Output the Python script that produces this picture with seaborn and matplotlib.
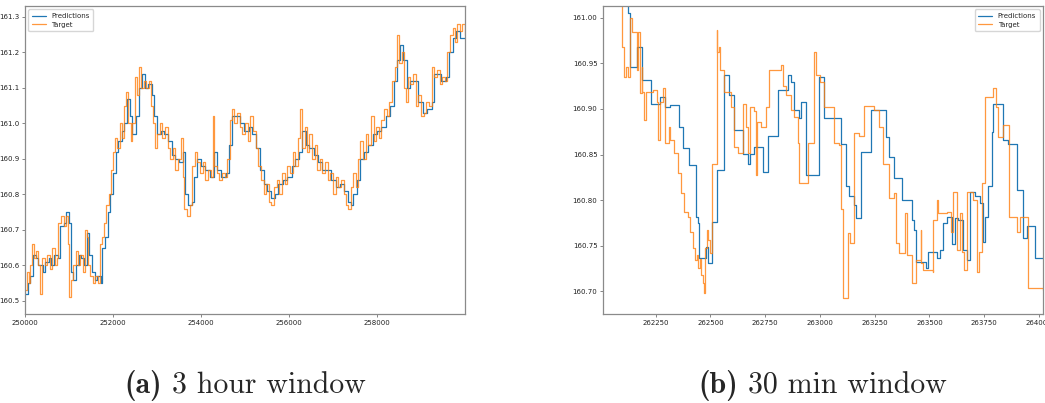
import matplotlib
matplotlib.use("Agg")
import matplotlib.pyplot as plt
import seaborn as sns
import pandas as pd

# ---------------- 3 hour window ----------------
long_target_x = [
    250000, 250040, 250080, 250120, 250160, 250200, 250260, 250300, 250350, 250380,
    250450, 250500, 250560, 250620, 250680, 250720, 250760, 250820, 250880, 250930,
    250980, 251010, 251040, 251100, 251150, 251200, 251260, 251320, 251360, 251400,
    251440, 251480, 251540, 251600, 251660, 251700, 251760, 251800, 251850, 251900,
    251950, 252000, 252050, 252100, 252150, 252200, 252250, 252300, 252340, 252400,
    252440, 252500, 252540, 252600, 252640, 252700, 252760, 252820, 252870, 252920,
    252960, 253000, 253060, 253120, 253180, 253240, 253300, 253360, 253420, 253480,
    253540, 253580, 253620, 253680, 253740, 253800, 253860, 253920, 253980, 254040,
    254100, 254160, 254220, 254270, 254300, 254360, 254420, 254480, 254540, 254600,
    254650, 254700, 254760, 254820, 254880, 254940, 255000, 255060, 255120, 255180,
    255240, 255300, 255360, 255420, 255480, 255540, 255600, 255660, 255720, 255780,
    255840, 255900, 255960, 256020, 256080, 256140, 256200, 256250, 256300, 256360,
    256400, 256460, 256520, 256580, 256640, 256700, 256760, 256820, 256880, 256940,
    257000, 257060, 257120, 257180, 257240, 257300, 257340, 257400, 257460, 257520,
    257560, 257620, 257680, 257740, 257800, 257860, 257920, 257980, 258040, 258100,
    258160, 258220, 258280, 258340, 258400, 258450, 258500, 258560, 258610, 258660,
    258700, 258760, 258820, 258880, 258940, 259000, 259060, 259120, 259180, 259250,
    259300, 259360, 259420, 259480, 259540, 259600, 259660, 259720, 259780, 259820,
    259880, 259940, 259999,
]
long_target_y = [
    160.53, 160.58, 160.55, 160.60, 160.66, 160.62, 160.64, 160.60, 160.52, 160.62,
    160.60, 160.63, 160.59, 160.65, 160.60, 160.62, 160.72, 160.74, 160.71, 160.74,
    160.66, 160.51, 160.56, 160.60, 160.64, 160.60, 160.63, 160.58, 160.70, 160.68,
    160.60, 160.57, 160.55, 160.57, 160.55, 160.66, 160.68, 160.72, 160.77, 160.80,
    160.87, 160.92, 160.96, 160.93, 161.00, 160.96, 161.05, 161.09, 161.00, 160.95,
    161.00, 161.13, 161.08, 161.16, 161.10, 161.12, 161.10, 161.12, 161.05, 161.00,
    160.93, 160.97, 161.00, 160.96, 160.99, 160.93, 160.90, 160.93, 160.87, 160.90,
    160.96, 160.85, 160.76, 160.74, 160.77, 160.88, 160.92, 160.89, 160.86, 160.89,
    160.84, 160.87, 160.85, 161.02, 160.88, 160.86, 160.84, 160.86, 160.85, 160.90,
    161.01, 161.04, 161.00, 161.03, 160.99, 160.97, 161.00, 160.95, 161.02, 160.98,
    160.93, 160.88, 160.84, 160.80, 160.83, 160.78, 160.77, 160.82, 160.84, 160.80,
    160.86, 160.83, 160.88, 160.86, 160.92, 160.88, 160.96, 161.04, 160.93, 160.99,
    160.92, 160.97, 160.90, 160.94, 160.87, 160.90, 160.86, 160.89, 160.84, 160.86,
    160.80, 160.85, 160.82, 160.84, 160.80, 160.77, 160.76, 160.82, 160.86, 160.82,
    160.90, 160.95, 160.90, 160.97, 160.94, 161.02, 160.95, 160.99, 160.96, 161.01,
    161.04, 161.02, 161.06, 161.12, 161.16, 161.25, 161.17, 161.20, 161.10, 161.06,
    161.13, 161.11, 161.14, 161.05, 161.08, 161.02, 161.03, 161.06, 161.05, 161.16,
    161.13, 161.15, 161.11, 161.13, 161.12, 161.20, 161.25, 161.27, 161.23, 161.28,
    161.26, 161.28, 161.25,
]
long_pred_x = [
    250000, 250060, 250120, 250180, 250240, 250300, 250400, 250460, 250540, 250600,
    250660, 250740, 250800, 250880, 250940, 251000, 251040, 251100, 251160, 251220,
    251280, 251340, 251400, 251460, 251520, 251580, 251640, 251720, 251760, 251820,
    251880, 251940, 252000, 252060, 252120, 252200, 252260, 252320, 252380, 252440,
    252520, 252580, 252660, 252720, 252800, 252880, 252940, 253000, 253080, 253160,
    253260, 253340, 253420, 253500, 253580, 253640, 253700, 253800, 253840, 253900,
    254000, 254100, 254200, 254300, 254360, 254460, 254560, 254640, 254700, 254780,
    254880, 254980, 255080, 255160, 255260, 255340, 255420, 255500, 255600, 255680,
    255760, 255860, 255960, 256060, 256140, 256220, 256300, 256380, 256460, 256560,
    256660, 256760, 256860, 256960, 257060, 257160, 257260, 257340, 257400, 257460,
    257540, 257620, 257700, 257800, 257900, 258000, 258100, 258200, 258300, 258380,
    258460, 258520, 258600, 258680, 258760, 258860, 258940, 259040, 259140, 259240,
    259300, 259380, 259460, 259560, 259640, 259720, 259800, 259880, 259999,
]
long_pred_y = [
    160.52, 160.55, 160.57, 160.63, 160.62, 160.60, 160.58, 160.61, 160.62, 160.60,
    160.63, 160.62, 160.71, 160.72, 160.75, 160.72, 160.58, 160.56, 160.60, 160.63,
    160.62, 160.60, 160.69, 160.63, 160.58, 160.56, 160.57, 160.55, 160.65, 160.68,
    160.75, 160.80, 160.86, 160.92, 160.95, 160.98, 161.00, 161.07, 161.02, 160.97,
    161.02, 161.10, 161.14, 161.10, 161.11, 161.08, 161.02, 160.97, 160.98, 160.97,
    160.95, 160.91, 160.90, 160.89, 160.92, 160.80, 160.77, 160.78, 160.85, 160.90,
    160.88, 160.87, 160.85, 160.92, 160.87, 160.85, 160.86, 160.94, 161.02, 161.02,
    161.00, 160.98, 160.99, 160.97, 160.93, 160.87, 160.83, 160.81, 160.79, 160.80,
    160.83, 160.84, 160.85, 160.88, 160.90, 160.92, 160.98, 160.94, 160.93, 160.91,
    160.89, 160.87, 160.87, 160.84, 160.82, 160.83, 160.81, 160.78, 160.77, 160.80,
    160.84, 160.90, 160.92, 160.94, 160.97, 160.98, 160.99, 161.02, 161.05, 161.12,
    161.18, 161.22, 161.18, 161.10, 161.12, 161.12, 161.06, 161.03, 161.04, 161.06,
    161.14, 161.14, 161.12, 161.13, 161.20, 161.24, 161.26, 161.24, 161.24,
]

# ---------------- 30 min window ----------------
short_target_x = [
    262089, 262098, 262107, 262116, 262126, 262135, 262144, 262167, 262172, 262181,
    262186, 262190, 262199, 262204, 262236, 262258, 262263, 262272, 262286, 262295,
    262309, 262318, 262332, 262350, 262364, 262378, 262396, 262405, 262419, 262428,
    262438, 262442, 262451, 262456, 262465, 262470, 262474, 262483, 262488, 262500,
    262509, 262528, 262532, 262541, 262546, 262560, 262592, 262606, 262628, 262647,
    262661, 262674, 262683, 262697, 262706, 262711, 262729, 262752, 262766, 262821,
    262830, 262844, 262867, 262881, 262899, 262904, 262945, 262972, 262982, 263000,
    263018, 263059, 263064, 263087, 263096, 263105, 263128, 263137, 263156, 263179,
    263201, 263247, 263270, 263288, 263317, 263339, 263348, 263362, 263390, 263399,
    263422, 263440, 263459, 263463, 263472, 263514, 263518, 263532, 263541, 263578,
    263596, 263605, 263624, 263638, 263647, 263656, 263670, 263697, 263715, 263725,
    263738, 263752, 263789, 263803, 263812, 263835, 263862, 263899, 263913, 263950,
    264018,
]
short_target_y = [
    161.030, 160.968, 160.935, 160.946, 160.935, 161.000, 160.985, 160.943, 160.984, 160.918,
    160.946, 160.919, 160.888, 160.919, 160.921, 160.908, 160.866, 160.908, 160.923, 160.863,
    160.880, 160.866, 160.852, 160.830, 160.808, 160.787, 160.781, 160.765, 160.747, 160.734,
    160.740, 160.726, 160.735, 160.718, 160.709, 160.698, 160.747, 160.767, 160.756, 160.742,
    160.840, 160.987, 160.962, 160.968, 160.943, 160.919, 160.902, 160.858, 160.852, 160.906,
    160.880, 160.852, 160.902, 160.898, 160.827, 160.886, 160.880, 160.902, 160.943, 160.948,
    160.925, 160.915, 160.899, 160.891, 160.863, 160.819, 160.863, 160.962, 160.937, 160.930,
    160.902, 160.902, 160.863, 160.860, 160.790, 160.693, 160.764, 160.753, 160.874, 160.870,
    160.903, 160.899, 160.880, 160.840, 160.802, 160.808, 160.753, 160.742, 160.786, 160.740,
    160.709, 160.734, 160.767, 160.731, 160.723, 160.721, 160.778, 160.800, 160.786, 160.787,
    160.765, 160.809, 160.745, 160.786, 160.743, 160.723, 160.809, 160.800, 160.721, 160.743,
    160.819, 160.913, 160.923, 160.902, 160.869, 160.882, 160.781, 160.765, 160.781, 160.703,
    160.701,
]
short_pred_x = [
    262089, 262126, 262135, 262167, 262190, 262227, 262272, 262295, 262318, 262355,
    262373, 262401, 262433, 262442, 262447, 262479, 262488, 262509, 262532, 262560,
    262583, 262606, 262651, 262674, 262683, 262697, 262738, 262761, 262807, 262853,
    262867, 262881, 262904, 262913, 262936, 262995, 263018, 263096, 263119, 263133,
    263156, 263165, 263188, 263234, 263302, 263317, 263339, 263376, 263422, 263431,
    263440, 263486, 263491, 263532, 263546, 263560, 263578, 263601, 263615, 263628,
    263651, 263670, 263683, 263706, 263729, 263743, 263752, 263766, 263784, 263789,
    263835, 263858, 263899, 263927, 263945, 263982, 264018,
]
short_pred_y = [
    161.030, 161.005, 160.946, 160.968, 160.932, 160.906, 160.913, 160.902, 160.904, 160.880,
    160.857, 160.838, 160.781, 160.775, 160.737, 160.748, 160.731, 160.776, 160.833, 160.937,
    160.915, 160.877, 160.851, 160.840, 160.851, 160.858, 160.831, 160.870, 160.921, 160.937,
    160.930, 160.899, 160.890, 160.908, 160.827, 160.935, 160.890, 160.862, 160.816, 160.805,
    160.795, 160.780, 160.853, 160.899, 160.869, 160.847, 160.824, 160.800, 160.778, 160.767,
    160.732, 160.725, 160.743, 160.736, 160.745, 160.775, 160.781, 160.752, 160.780, 160.778,
    160.745, 160.734, 160.809, 160.805, 160.797, 160.754, 160.781, 160.816, 160.875, 160.906,
    160.866, 160.862, 160.811, 160.758, 160.772, 160.736, 160.736,
]

long_ticks = [250000, 252000, 254000, 256000, 258000]
short_ticks = [262250, 262500, 262750, 263000, 263250, 263500, 263750, 264000]
long_yticks = [160.5, 160.6, 160.7, 160.8, 160.9, 161.0, 161.1, 161.2, 161.3]
short_yticks = [160.70, 160.75, 160.80, 160.85, 160.90, 160.95, 161.00]

sns.set_style("ticks")
plt.rcParams["font.family"] = ["DejaVu Sans"]

W, H = 1045, 403
fig = plt.figure(figsize=(W / 100, H / 100), dpi=100)
fig.patch.set_facecolor("white")


def px_axes(x0, y0, x1, y1):
    return fig.add_axes([x0 / W, 1 - y1 / H, (x1 - x0) / W, (y1 - y0) / H])


ax_long = px_axes(25, 6, 465, 314)
ax_short = px_axes(603, 6, 1043, 314)

blue, orange = "#1f77b4", "#ff7f0e"


def draw(ax, px, py, tx, ty):
    pred = pd.DataFrame({"t": px, "v": py})
    targ = pd.DataFrame({"t": tx, "v": ty})
    sns.lineplot(data=pred, x="t", y="v", ax=ax, color=blue, lw=0.9,
                 drawstyle="steps-post", estimator=None, label="Predictions")
    sns.lineplot(data=targ, x="t", y="v", ax=ax, color=orange, lw=0.9, alpha=0.8,
                 drawstyle="steps-post", estimator=None, label="Target")
    ax.set_xlabel("")
    ax.set_ylabel("")
    for s in ax.spines.values():
        s.set_visible(True)
        s.set_color("#8a8a8a")
        s.set_linewidth(0.9)
    ax.tick_params(labelsize=5, length=2, width=0.5, color="#555555",
                   labelcolor="#222222", pad=2)


draw(ax_long, long_pred_x, long_pred_y, long_target_x, long_target_y)
ax_long.set_xlim(250000, 259999)
ax_long.set_ylim(160.463, 161.331)
ax_long.set_xticks(long_ticks)
ax_long.set_xticklabels([str(t) for t in long_ticks])
ax_long.set_yticks(long_yticks)
ax_long.set_yticklabels([f"{v:.1f}" for v in long_yticks])
ax_long.legend(loc="upper left", fontsize=5, frameon=True, borderpad=0.5,
               handlelength=2.0, labelspacing=0.4, fancybox=True)

draw(ax_short, short_pred_x, short_pred_y, short_target_x, short_target_y)
ax_short.set_xlim(262010, 264018)
ax_short.set_ylim(160.675, 161.013)
ax_short.set_xticks(short_ticks)
ax_short.set_xticklabels([str(t) for t in short_ticks])
ax_short.set_yticks(short_yticks)
ax_short.set_yticklabels([f"{v:.2f}" for v in short_yticks])
ax_short.legend(loc="upper right", fontsize=5, frameon=True, borderpad=0.5,
                handlelength=2.0, labelspacing=0.4, fancybox=True)

# subfigure captions: bold tag followed by roman text
captions = [("(a)", "3 hour window", 245), ("(b)", "30 min window", 823)]
cap_size = 21.5
cap_y = 1 - 393 / H
fig.canvas.draw()
renderer = fig.canvas.get_renderer()
for tag, body, cx in captions:
    t1 = fig.text(0, cap_y, tag, fontsize=cap_size, family="cmb10", ha="left", va="baseline")
    t2 = fig.text(0, cap_y, " " + body, fontsize=cap_size, family="cmr10", ha="left", va="baseline")
    w1 = t1.get_window_extent(renderer).width
    w2 = t2.get_window_extent(renderer).width
    left = cx - (w1 + w2) / 2
    t1.set_x(left / W)
    t2.set_x((left + w1) / W)

fig.savefig("out.png", dpi=100, facecolor="white")
